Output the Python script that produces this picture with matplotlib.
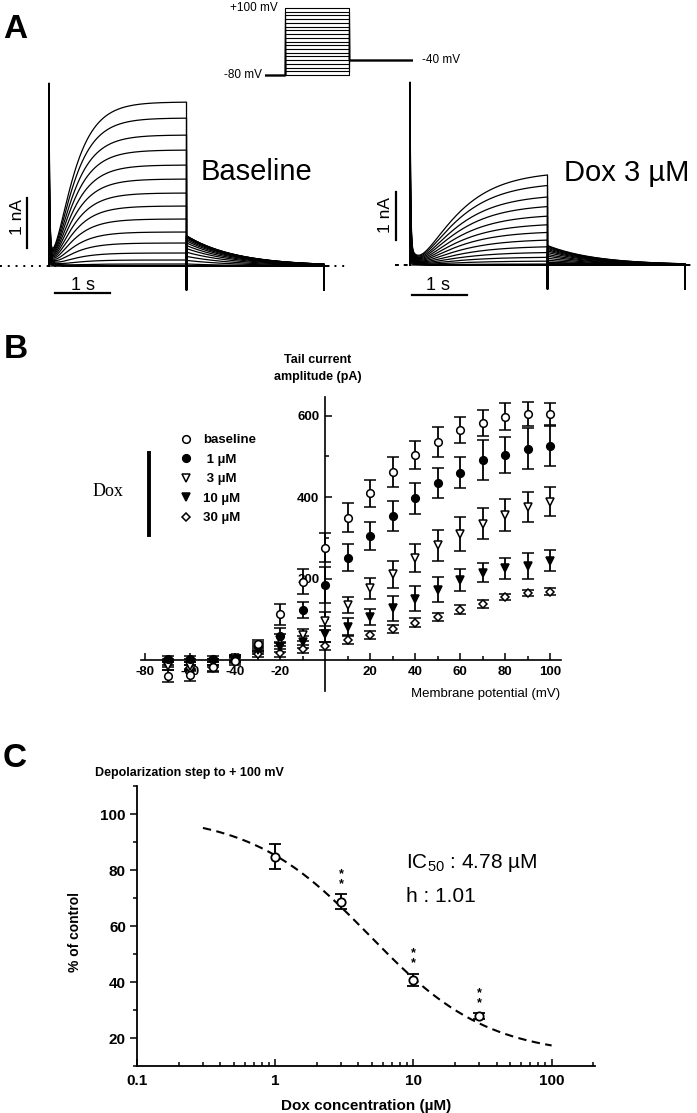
import numpy as np
import matplotlib
matplotlib.use("Agg")
import matplotlib.pyplot as plt
from matplotlib.lines import Line2D
from matplotlib.ticker import FixedLocator, LogLocator, NullFormatter

plt.rcParams['font.family'] = ['Liberation Sans', 'DejaVu Sans']
plt.rcParams['axes.unicode_minus'] = False
plt.rcParams['mathtext.fontset'] = 'custom'
plt.rcParams['mathtext.rm'] = 'Liberation Sans'
plt.rcParams['mathtext.it'] = 'Liberation Sans:italic'
plt.rcParams['mathtext.bf'] = 'Liberation Sans:bold'

# ---- A: step protocol and current at the end of each 2.5 s step (nA)
step_mv = [-80, -70, -60, -50, -40, -30, -20, -10, 0, 10,
           20, 30, 40, 50, 60, 70, 80, 90, 100]
hold_mv, tail_mv = -80, -40
pulse_s = 2.5
end_base = [0, 0, 0, 0, 0.01, 0.04, 0.12, 0.26, 0.46, 0.68,
            0.94, 1.20, 1.46, 1.74, 2.02, 2.32, 2.62, 2.96, 3.28]
end_dox3 = [0, 0, 0, 0, 0, 0, 0.02, 0.08, 0.16, 0.26,
            0.38, 0.52, 0.68, 0.84, 1.02, 1.22, 1.42, 1.66, 1.88]
tau_base, tau_dox3, tau_tail = 0.33, 0.65, 0.9   # s
spike_max, hump_max, off_kick = 3.66, 0.40, -0.48  # nA

# ---- B: tail current amplitude (pA), mean and error
mem_mv = [-70, -60, -50, -40, -30, -20, -10, 0, 10,
          20, 30, 40, 50, 60, 70, 80, 90, 100]
tail_base = [-40, -37, -18, -3, 40, 112, 192, 276, 349, 409, 462, 503, 536, 564, 582, 597, 604, 603]
err_base = [15, 15, 12, 8, 10, 25, 31, 35, 36, 34, 37, 35, 37, 32, 31, 33, 30, 27]
tail_1 = [3, 3, 2, 5, 35, 60, 123, 184, 251, 304, 354, 397, 434, 460, 491, 503, 519, 525]
err_1 = [8, 8, 8, 8, 10, 18, 20, 45, 33, 35, 37, 38, 37, 39, 50, 45, 50, 50]
tail_3 = [-15, -15, -8, 5, 30, 49, 61, 96, 135, 176, 211, 250, 282, 309, 334, 356, 376, 389]
err_3 = [10, 10, 10, 8, 10, 15, 15, 22, 20, 25, 33, 35, 38, 41, 38, 39, 37, 36]
tail_10 = [-5, -5, -5, 3, 25, 32, 45, 64, 82, 106, 127, 151, 173, 196, 214, 225, 231, 244]
err_10 = [8, 8, 8, 8, 10, 12, 15, 20, 20, 20, 31, 31, 30, 27, 23, 26, 31, 26]
tail_30 = [-10, -20, -20, 0, 15, 17, 27, 34, 49, 61, 76, 92, 106, 124, 137, 155, 165, 168]
err_30 = [8, 8, 8, 8, 8, 10, 10, 10, 10, 10, 10, 10, 10, 10, 10, 8, 8, 8]
series_labels = ['baseline', ' 1 µM', ' 3 µM', '10 µM', '30 µM']

# ---- C: concentration-response at +100 mV
dox_um = [1, 3, 10, 30]
pct_ctrl = [84.8, 68.7, 40.7, 27.9]
pct_err = [4.5, 2.7, 2.3, 1.0]
ic50, hill, bottom = 4.78, 1.01, 13.5

W, H = 697, 1113


def box(x0, y0, x1, y1):
    return [x0 / W, 1 - y1 / H, (x1 - x0) / W, (y1 - y0) / H]


def fx(x):
    return x / W


def fy(y):
    return 1 - y / H


def sweep(v, amp, tail, tau):
    frac = (v - hold_mv) / (step_mv[-1] - hold_mv)
    t_on = np.linspace(0, pulse_s, 1500)
    i_on = (amp * (1 - np.exp(-t_on / tau)) ** 2
            + frac * (hump_max * np.exp(-t_on / 0.12)
                      + (spike_max - hump_max) * np.exp(-t_on / 0.012)))
    t_off = np.linspace(pulse_s, 2 * pulse_s, 800)
    i_off = tail * np.exp(-(t_off - pulse_s) / tau_tail)
    t = np.r_[0, t_on, pulse_s, t_off, 2 * pulse_s, 2 * pulse_s, 2 * pulse_s + 0.08]
    i = np.r_[0, i_on, off_kick, i_off, off_kick, 0, 0]
    return t, i


fig = plt.figure(figsize=(W / 100, H / 100), dpi=100)

# ================= A =================
tails_base = [0] + [max(x, 0) / 1000 for x in tail_base]
tails_dox3 = [0] + [max(x, 0) / 1000 for x in tail_3]

axl = fig.add_axes(box(0, 80, 348, 300))
axl.set_xlim(-0.891, 5.436)
axl.set_ylim(-0.68, 3.72)
axl.axis('off')
axl.plot([-0.891, 5.436], [0, 0], color='k', lw=1.4, ls=(0, (1, 3)))
for v, a, tl in zip(step_mv, end_base, tails_base):
    t, i = sweep(v, a, tl, tau_base)
    axl.plot(t, i, color='k', lw=0.9)
axl.plot([-0.4, -0.4], [0.36, 1.36], color='k', lw=1.6)
axl.text(-0.57, 0.98, '1 nA', rotation=90, ha='center', va='center', fontsize=12.5)
axl.plot([0.11, 1.11], [-0.54, -0.54], color='k', lw=1.6)
axl.text(0.62, -0.47, '1 s', ha='center', va='baseline', fontsize=13)
axl.text(2.75, 1.88, 'Baseline', ha='left', va='center', fontsize=21)

axr = fig.add_axes(box(390, 79, 697, 299))
axr.set_xlim(-0.364, 5.218)
axr.set_ylim(-0.68, 3.72)
axr.axis('off')
axr.plot([-0.27, 0], [0, 0], color='k', lw=1.4, ls=(0, (2, 2.5)))
for v, a, tl in zip(step_mv, end_dox3, tails_dox3):
    t, i = sweep(v, a, tl, tau_dox3)
    axr.plot(t, i, color='k', lw=0.9)
axr.plot([-0.25, -0.25], [0.5, 1.46], color='k', lw=1.6)
axr.text(-0.44, 1.0, '1 nA', rotation=90, ha='center', va='center', fontsize=12.5,
         clip_on=False)
axr.plot([0.04, 1.04], [-0.6, -0.6], color='k', lw=1.6)
axr.text(0.51, -0.5, '1 s', ha='center', va='baseline', fontsize=13)
axr.text(2.8, 1.84, 'Dox 3 µM', ha='left', va='center', fontsize=21)

# voltage protocol
axp = fig.add_axes(box(265, 6.1, 413, 76.9))
axp.set_xlim(-0.8, 5.0)
axp.set_ylim(-85, 105)
axp.axis('off')
for v in step_mv:
    axp.plot([-0.8, 0, 0, pulse_s, pulse_s, 2 * pulse_s],
             [hold_mv, hold_mv, v, v, tail_mv, tail_mv], color='k', lw=0.8)
axp.text(-0.29, 100, '+100 mV', ha='right', va='center', fontsize=8.5)
axp.text(-0.92, -80, '-80 mV', ha='right', va='center', fontsize=8.5)
axp.text(5.36, -40, '-40 mV', ha='left', va='center', fontsize=8.5, clip_on=False)

# ================= B =================
axb = fig.add_axes(box(140.5, 397.2, 561.25, 690.6))
axb.set_xlim(-82, 105)
axb.set_ylim(-75, 645)
for side in ['top', 'right']:
    axb.spines[side].set_visible(False)
axb.spines['left'].set_position(('data', 0))
axb.spines['bottom'].set_position(('data', 0))
for side in ['left', 'bottom']:
    axb.spines[side].set_linewidth(1.2)
axb.xaxis.set_major_locator(FixedLocator([-80, -60, -40, -20, 20, 40, 60, 80, 100]))
axb.xaxis.set_minor_locator(FixedLocator([-70, -50, -30, -10, 10, 30, 50, 70, 90]))
axb.yaxis.set_major_locator(FixedLocator([200, 400, 600]))
axb.yaxis.set_minor_locator(FixedLocator([100, 300, 500]))
axb.tick_params(which='both', direction='in', width=1.1, labelsize=9.5, pad=4)
axb.tick_params(which='major', length=5)
axb.tick_params(which='minor', length=3)
for lab in axb.get_xticklabels() + axb.get_yticklabels():
    lab.set_fontweight('bold')

styles = [('o', 'white'), ('o', 'k'), ('v', 'white'), ('v', 'k'), ('D', 'white')]
series = [(tail_30, err_30), (tail_10, err_10), (tail_3, err_3), (tail_1, err_1),
          (tail_base, err_base)]
for (vals, err), (mk, fc) in zip(series, styles[::-1]):
    axb.errorbar(mem_mv, vals, yerr=err, fmt=mk, mfc=fc, mec='k', ms=5.5 if mk != 'D' else 4.5,
                 mew=1.1, ecolor='k', elinewidth=1.3, capsize=4.3, capthick=1.3, zorder=3)

fig.text(fx(318), fy(360), 'Tail current', ha='center', va='center', fontsize=9, weight='bold')
fig.text(fx(318), fy(377), 'amplitude (pA)', ha='center', va='center', fontsize=9, weight='bold')
fig.text(fx(560), fy(694), 'Membrane potential (mV)', ha='right', va='center', fontsize=9.5)

handles = [Line2D([], [], ls='none', marker=mk, mfc=fc, mec='k', mew=1.1,
                  ms=5.5 if mk != 'D' else 4.5) for mk, fc in styles]
fig.legend(handles, series_labels, loc='upper left', bbox_to_anchor=(fx(179), fy(434)),
           frameon=False, borderpad=0, borderaxespad=0, handlelength=1.0,
           handletextpad=0.85, labelspacing=0.55, prop={'size': 9.5, 'weight': 'bold'})
fig.add_artist(Line2D([fx(149), fx(149)], [fy(453), fy(535)], lw=2.8, color='k'))
fig.text(fx(108), fy(491), 'Dox', ha='center', va='center', fontsize=13,
         family=['Liberation Serif', 'DejaVu Serif'])

# ================= C =================
axc = fig.add_axes(box(137, 786, 595, 1066))
axc.set_xscale('log')
axc.set_xlim(0.1, 206)
axc.set_ylim(10, 110)
for side in ['top', 'right']:
    axc.spines[side].set_visible(False)
for side in ['left', 'bottom']:
    axc.spines[side].set_linewidth(1.3)
axc.xaxis.set_major_locator(FixedLocator([0.1, 1, 10, 100]))
axc.set_xticklabels(['0.1', '1', '10', '100'])
axc.xaxis.set_minor_locator(LogLocator(base=10, subs=range(2, 10)))
axc.xaxis.set_minor_formatter(NullFormatter())
axc.yaxis.set_major_locator(FixedLocator([20, 40, 60, 80, 100]))
axc.yaxis.set_minor_locator(FixedLocator([10, 30, 50, 70, 90, 110]))
axc.tick_params(axis='x', which='both', direction='in', width=1.1, labelsize=11, pad=6)
axc.tick_params(axis='y', which='both', direction='out', width=1.1, labelsize=11, pad=3)
axc.tick_params(which='major', length=5)
axc.tick_params(which='minor', length=3)
for lab in axc.get_xticklabels() + axc.get_yticklabels():
    lab.set_fontweight('bold')

c_fit = np.logspace(np.log10(0.3), 2, 200)
axc.plot(c_fit, bottom + (100 - bottom) / (1 + (c_fit / ic50) ** hill),
         color='k', lw=1.5, ls=(0, (4, 2.6)))
axc.errorbar(dox_um, pct_ctrl, yerr=pct_err, fmt='o', mfc='white', mec='k', ms=6,
             mew=1.3, ecolor='k', elinewidth=1.4, capsize=4.5, capthick=1.4, zorder=3)
for c, p, e in zip(dox_um[1:], pct_ctrl[1:], pct_err[1:]):
    axc.annotate('*\n*', xy=(c, p + e), xytext=(0, 3), textcoords='offset points',
                 ha='center', va='bottom', fontsize=9, weight='bold', linespacing=0.8)
axc.text(8.9, 82.5, r'IC$_{\mathregular{50}}$ : 4.78 µM', ha='left', va='center', fontsize=15)
axc.text(8.9, 70.5, 'h : 1.01', ha='left', va='center', fontsize=15)
axc.set_xlabel('Dox concentration (µM)', fontsize=11, weight='bold', labelpad=8)
fig.text(fx(75), fy(932), '% of control', rotation=90, ha='center', va='center',
         fontsize=10, weight='bold')
fig.text(fx(95), fy(773), 'Depolarization step to + 100 mV', ha='left', va='center',
         fontsize=9, weight='bold')

# panel letters
fig.text(fx(3), fy(38), 'A', ha='left', va='baseline', fontsize=24, weight='bold')
fig.text(fx(4), fy(358), 'B', ha='left', va='baseline', fontsize=24, weight='bold')
fig.text(fx(3), fy(767), 'C', ha='left', va='baseline', fontsize=24, weight='bold')

fig.savefig('out.png', dpi=100)
